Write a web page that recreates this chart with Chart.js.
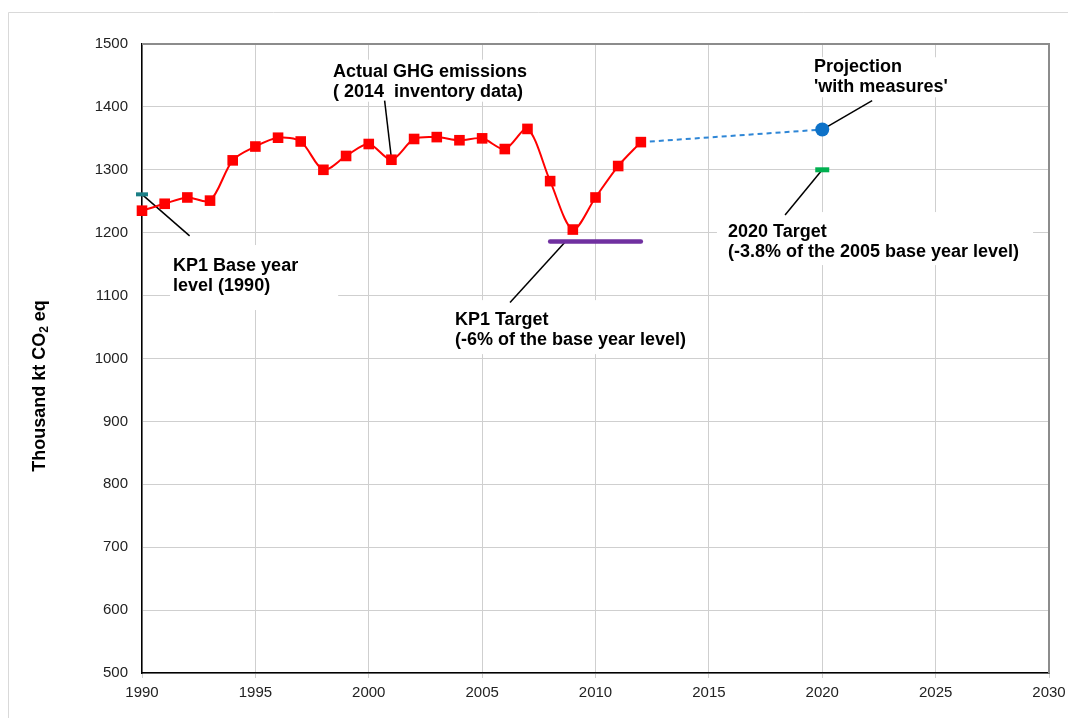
<!DOCTYPE html>
<html>
<head>
<meta charset="utf-8">
<script src="https://cdn.jsdelivr.net/npm/chart.js@4/dist/chart.umd.min.js"></script>
<style>
  html, body { margin: 0; padding: 0; background: #fff; }
  #chart { display: block; }
</style>
</head>
<body>
<canvas id="chart" width="1068" height="718"></canvas>
<script>
// inventory years and emissions (thousand kt CO2 eq)
const years = [1990, 1991, 1992, 1993, 1994, 1995, 1996, 1997, 1998, 1999, 2000, 2001,
  2002, 2003, 2004, 2005, 2006, 2007, 2008, 2009, 2010, 2011, 2012];
const emissions = [1235, 1246, 1256, 1251, 1315, 1337, 1351, 1345, 1300, 1322, 1341, 1316,
  1349, 1352, 1347, 1350, 1333, 1365, 1282, 1205, 1256, 1306, 1344];

const baseYear = [1990];
const baseLevel = [1261];
const kp1Years = [2008, 2012];
const kp1Target = [1186, 1186];
const projYears = [2012, 2020];
const projValues = [1344, 1364];
const targetYear = [2020];
const target2020 = [1300];

const xTicks = [1990, 1995, 2000, 2005, 2010, 2015, 2020, 2025, 2030];
const yTicks = [500, 600, 700, 800, 900, 1000, 1100, 1200, 1300, 1400, 1500];

const toPoints = (xs, ys) => xs.map((x, i) => ({ x, y: ys[i] }));

// text boxes: position of first line (data units), leader line from -> to
const notes = [
  { lines: ["Actual GHG emissions", "( 2014  inventory data)"], at: [1998.42, 1456],
    from: [2000.7, 1410], to: [2001, 1318], pad: [12, 6, 10, 4] },
  { lines: ["Projection", "'with measures'"], at: [2019.64, 1463],
    from: [2022.2, 1410], to: [2020, 1364], pad: [10, 8, 10, 6] },
  { lines: ["2020 Target", "(-3.8% of the 2005 base year level)"], at: [2015.84, 1201],
    from: [2018.36, 1228], to: [2020, 1300], pad: [20, 14, 13, 11] },
  { lines: ["KP1 Target", "(-6% of the base year level)"], at: [2003.8, 1061],
    from: [2006.23, 1089], to: [2008.65, 1185], pad: [20, 10, 14, 12] },
  { lines: ["KP1 Base year", "level (1990)"], at: [1991.37, 1147],
    from: [1992.1, 1195], to: [1990, 1261], pad: [21, 40, 24, 3] }
];

const FONT = '"Liberation Sans", Arial, sans-serif';
Chart.defaults.font.family = FONT;

const notesPlugin = {
  id: "notes",
  beforeDraw(chart) {
    const { ctx } = chart;
    ctx.save();
    ctx.fillStyle = "#fff";
    ctx.fillRect(0, 0, chart.width, chart.height);
    ctx.strokeStyle = "#d9d9d9";
    ctx.lineWidth = 1;
    ctx.beginPath();
    ctx.moveTo(8.5, chart.height);
    ctx.lineTo(8.5, 12.5);
    ctx.lineTo(chart.width, 12.5);
    ctx.stroke();
    ctx.restore();
  },
  beforeDatasetsDraw(chart) {
    const { ctx, chartArea: a } = chart;
    const x = chart.scales.x, y = chart.scales.y;
    ctx.save();

    // top and right edge of the plot area
    ctx.strokeStyle = "#8c8c8c";
    ctx.lineWidth = 2;
    ctx.beginPath();
    ctx.moveTo(a.left, a.top);
    ctx.lineTo(a.right, a.top);
    ctx.lineTo(a.right, a.bottom);
    ctx.stroke();

    ctx.font = "bold 18px " + FONT;
    const lh = 20;
    notes.forEach(n => {
      const tx = x.getPixelForValue(n.at[0]);
      const ty = y.getPixelForValue(n.at[1]);
      const w = Math.max(...n.lines.map(l => ctx.measureText(l).width));
      const [pt, pr, pb, pl] = n.pad;
      ctx.fillStyle = "#fff";
      ctx.fillRect(tx - pl, ty - pt, w + pl + pr, (n.lines.length - 1) * lh + pt + pb);
    });

    ctx.strokeStyle = "#000";
    ctx.lineWidth = 1.5;
    notes.forEach(n => {
      ctx.beginPath();
      ctx.moveTo(x.getPixelForValue(n.from[0]), y.getPixelForValue(n.from[1]));
      ctx.lineTo(x.getPixelForValue(n.to[0]), y.getPixelForValue(n.to[1]));
      ctx.stroke();
    });

    ctx.fillStyle = "#000";
    ctx.textBaseline = "middle";
    ctx.textAlign = "left";
    notes.forEach(n => {
      const tx = x.getPixelForValue(n.at[0]);
      const ty = y.getPixelForValue(n.at[1]);
      n.lines.forEach((l, i) => ctx.fillText(l, tx, ty + i * lh));
    });
    ctx.restore();
  },
  afterDraw(chart) {
    // y axis title with subscript
    const { ctx } = chart;
    ctx.save();
    ctx.translate(40, 386);
    ctx.rotate(-Math.PI / 2);
    ctx.fillStyle = "#000";
    ctx.textBaseline = "middle";
    ctx.textAlign = "left";
    const big = "bold 18px " + FONT, small = "bold 12px " + FONT;
    const p1 = "Thousand kt CO", p2 = "2", p3 = " eq";
    ctx.font = big;
    const w1 = ctx.measureText(p1).width, w3 = ctx.measureText(p3).width;
    ctx.font = small;
    const w2 = ctx.measureText(p2).width;
    let cx = -(w1 + w2 + w3) / 2;
    ctx.font = big;
    ctx.fillText(p1, cx, 0);
    cx += w1;
    ctx.font = small;
    ctx.fillText(p2, cx, 5);
    cx += w2;
    ctx.font = big;
    ctx.fillText(p3, cx, 0);
    ctx.restore();
  }
};

new Chart(document.getElementById("chart"), {
  type: "line",
  data: {
    datasets: [
      {
        label: "Actual GHG emissions",
        data: toPoints(years, emissions),
        borderColor: "#ff0000",
        backgroundColor: "#ff0000",
        borderWidth: 2,
        tension: 0.3,
        pointStyle: "rect",
        pointRadius: 7.5,
        pointBorderWidth: 0,
        clip: false
      },
      {
        label: "Projection",
        data: toPoints(projYears, projValues),
        borderColor: "#2e86d6",
        backgroundColor: "#0e72c8",
        borderWidth: 2,
        borderDash: [5, 4],
        pointRadius: [0, 7],
        pointBorderWidth: 0,
        clip: false
      },
      {
        label: "KP1 Target",
        data: toPoints(kp1Years, kp1Target),
        borderColor: "#7030a0",
        borderWidth: 4.5,
        borderCapStyle: "round",
        pointRadius: 0,
        clip: false
      },
      {
        label: "KP1 Base year",
        data: toPoints(baseYear, baseLevel),
        showLine: false,
        pointStyle: "line",
        pointRadius: 6,
        pointBorderWidth: 4,
        pointBorderColor: "#1b7f86",
        clip: false
      },
      {
        label: "2020 Target",
        data: toPoints(targetYear, target2020),
        showLine: false,
        pointStyle: "line",
        pointRadius: 7,
        pointBorderWidth: 5,
        pointBorderColor: "#00b050",
        clip: false
      }
    ]
  },
  options: {
    responsive: false,
    animation: false,
    devicePixelRatio: 1,
    layout: { padding: { top: 44, right: 19, left: 0, bottom: 0 } },
    plugins: {
      legend: { display: false },
      tooltip: { enabled: false }
    },
    scales: {
      x: {
        type: "linear",
        min: xTicks[0],
        max: xTicks[xTicks.length - 1],
        afterBuildTicks: s => { s.ticks = xTicks.map(v => ({ value: v })); },
        afterFit: s => { s.height = 45; s.paddingLeft = 0; s.paddingRight = 0; },
        grid: { color: "#cfcfcf", lineWidth: 1, tickLength: 5, drawTicks: true },
        border: { color: "#000", width: 1.5 },
        ticks: {
          color: "#222",
          font: { size: 15 },
          padding: 6,
          maxRotation: 0,
          callback: v => String(v)
        }
      },
      y: {
        min: yTicks[0],
        max: yTicks[yTicks.length - 1],
        afterBuildTicks: s => { s.ticks = yTicks.map(v => ({ value: v })); },
        afterFit: s => { s.width = 142; s.paddingTop = 0; s.paddingBottom = 0; },
        grid: { color: "#cfcfcf", lineWidth: 1, drawTicks: false },
        border: { color: "#000", width: 1.5 },
        ticks: {
          color: "#222",
          font: { size: 15 },
          padding: 14,
          callback: v => String(v)
        }
      }
    }
  },
  plugins: [notesPlugin]
});
</script>
</body>
</html>
